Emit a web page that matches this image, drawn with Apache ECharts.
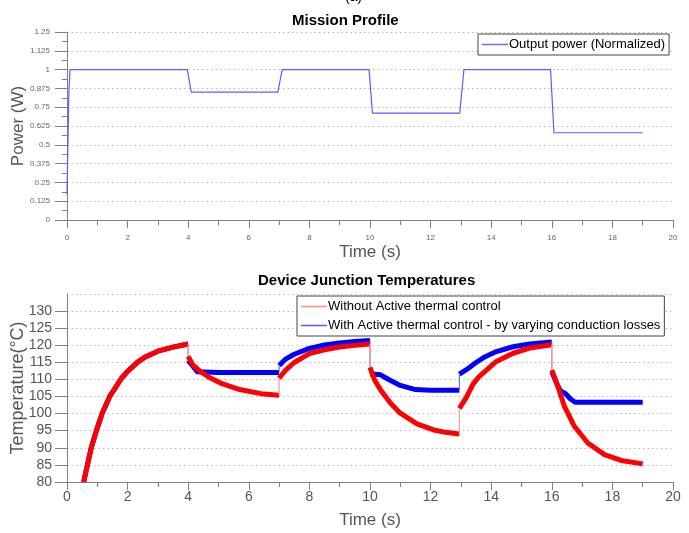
<!DOCTYPE html>
<html><head><meta charset="utf-8">
<script src="https://cdn.jsdelivr.net/npm/echarts@6/dist/echarts.min.js"></script>
<style>html,body{margin:0;padding:0;background:#fff}#c{width:689px;height:533px}</style>
</head><body><div id="c"></div>
<script>
// ---- data ----
const powerTime  = [0, 0.03, 0.06, 0.1, 3.97, 4.1, 6.96, 7.1, 9.97, 10.08, 12.96, 13.1, 15.96, 16.07, 19];
const powerValue = [0.17, 0.5, 0.84, 1, 1, 0.85, 0.85, 1, 1, 0.71, 0.71, 1, 1, 0.58, 0.58];

const redSeg1 = [[0.55,80],[0.8,90],[0.97,95],[1.16,100],[1.41,105],[1.8,110.3],[2.0,112.3],[2.33,115],[2.6,116.6],[3.0,118.2],[3.5,119.4],[4.0,120.3]];
const redSeg2 = [[4.0,116.7],[4.15,114.2],[4.4,112.3],[4.7,110.5],[5.07,108.9],[5.7,107],[6.4,105.8],[7.0,105.3]];
const redSeg3 = [[7.0,110.3],[7.2,112.5],[7.5,114.9],[8.0,117.5],[8.5,118.6],[9.0,119.4],[9.5,119.9],[10.0,120.3]];
const redSeg4 = [[10.0,113.5],[10.15,109.8],[10.35,106.9],[10.68,103],[11.0,100.1],[11.55,97],[12.1,95.2],[12.5,94.5],[12.95,94]];
const redSeg5 = [[12.95,101.5],[13.18,104.7],[13.4,108.6],[13.6,110.8],[14.17,115.2],[14.72,117.6],[15.27,119.1],[16.0,120.1]];
const redSeg6 = [[16.0,112.7],[16.2,107.9],[16.42,102],[16.75,96.2],[17.19,91.4],[17.74,88],[18.29,86.3],[19.0,85.3]];

const blueSeg1 = [[0.55,80],[0.8,90],[0.97,95],[1.16,100],[1.41,105],[1.8,110.3],[2.0,112.3],[2.33,115],[2.6,116.6],[3.0,118.2],[3.5,119.4],[4.0,120.3]];
const blueSeg2 = [[4.0,115.5],[4.3,112.2],[5.0,112],[7.0,112]];
const blueSeg3 = [[7.0,114],[7.2,115.8],[7.5,117.3],[8.0,119.0],[8.5,120],[9.0,120.6],[9.5,121],[10.0,121.3]];
const blueSeg4 = [[10.0,111.6],[10.35,111.3],[10.6,110],[11.0,108.2],[11.5,107],[12.0,106.8],[12.95,106.8]];
const blueSeg5 = [[12.95,111.5],[13.18,112.8],[13.5,114.9],[13.8,116.6],[14.17,118.1],[14.72,119.5],[15.27,120.3],[16.0,120.9]];
const blueSeg6 = [[16.0,112.2],[16.17,108.6],[16.28,106.7],[16.44,105.9],[16.61,104.3],[16.77,103.3],[19.0,103.3]];

const redName = 'Without Active thermal control';
const blueName = 'With Active thermal control - by varying conduction losses';
const powerName = 'Output power (Normalized)';

// ---- build ----
const FONT = '"Liberation Sans", Arial, sans-serif';
const redSegs = [redSeg1, redSeg2, redSeg3, redSeg4, redSeg5, redSeg6];
const blueSegs = [blueSeg1, blueSeg2, blueSeg3, blueSeg4, blueSeg5, blueSeg6];

function jumps(segs) {
  const out = [];
  for (let i = 0; i < segs.length - 1; i++) {
    out.push([segs[i][segs[i].length - 1], segs[i + 1][0]]);
  }
  return out;
}

const series = [];
series.push({
  name: powerName, type: 'line', xAxisIndex: 0, yAxisIndex: 0,
  data: powerTime.map((t, i) => [t, powerValue[i]]),
  showSymbol: false, symbol: 'none',
  lineStyle: { color: '#5c5cff', width: 1.2 }, itemStyle: { color: '#5c5cff' }
});
function addTemp(segs, name, color, thin, z) {
  segs.forEach(s => series.push({
    name, type: 'line', xAxisIndex: 1, yAxisIndex: 1, data: s,
    showSymbol: false, symbol: 'none', z,
    lineStyle: { color, width: 5, cap: 'butt', join: 'round' }, itemStyle: { color }
  }));
  jumps(segs).forEach(j => series.push({
    name, type: 'line', xAxisIndex: 1, yAxisIndex: 1, data: j,
    showSymbol: false, symbol: 'none', z,
    lineStyle: { color: thin, width: 1.2 }, itemStyle: { color }
  }));
}
addTemp(blueSegs, blueName, '#0000ff', '#6a6aff', 2);
addTemp(redSegs, redName, '#ff0000', '#ff9a9a', 3);

const axisLineStyle = { color: '#808080', width: 1 };
const gridLine = { show: true, lineStyle: { color: '#b8b8b8', type: [1.5, 3], width: 1 } };

const option = {
  animation: false,
  backgroundColor: '#fff',
  title: [
    { text: 'Mission Profile', left: 287, top: 8, textStyle: { fontFamily: FONT, fontSize: 15, fontWeight: 'bold', color: '#000' } },
    { text: 'Device Junction Temperatures', left: 253, top: 268, textStyle: { fontFamily: FONT, fontSize: 15, fontWeight: 'bold', color: '#000' } },
    { text: '(a)', left: 340, top: -15, textStyle: { fontFamily: FONT, fontSize: 14, fontWeight: 'normal', color: '#000' } }
  ],
  legend: [
    {
      data: [{ name: powerName, itemStyle: { color: '#6a6aff' } }],
      left: 478, top: 34, orient: 'vertical',
      icon: 'rect', itemWidth: 26, itemHeight: 1.5, itemGap: 2,
      backgroundColor: '#fff', borderColor: '#444', borderWidth: 1, padding: [4, 4, 4, 4],
      textStyle: { fontFamily: FONT, fontSize: 13, color: '#000', padding: [0, 0, 0, -4] }
    },
    {
      data: [{ name: redName, itemStyle: { color: '#ff8a8a' } }, { name: blueName, itemStyle: { color: '#5a5aff' } }],
      left: 297, top: 296, orient: 'vertical',
      icon: 'rect', itemWidth: 26, itemHeight: 1.5, itemGap: 6,
      backgroundColor: '#fff', borderColor: '#444', borderWidth: 1, padding: [4, 4, 4, 4],
      textStyle: { fontFamily: FONT, fontSize: 13, color: '#000', padding: [0, 0, 0, -4] }
    }
  ],
  grid: [
    { left: 67, right: 16, top: 32, bottom: 313, outerBoundsMode: 'none', containLabel: false },
    { left: 67, right: 16, top: 294, bottom: 51, outerBoundsMode: 'none', containLabel: false }
  ],
  xAxis: [
    {
      type: 'value', gridIndex: 0, min: 0, max: 20, interval: 2,
      name: 'Time (s)', nameLocation: 'middle', nameGap: 24, nameMoveOverlap: false,
      nameTextStyle: { fontFamily: FONT, fontSize: 17, color: '#555' },
      axisLine: { show: true, onZero: false, lineStyle: axisLineStyle },
      axisTick: { show: true, length: 8, lineStyle: axisLineStyle },
      minorTick: { show: true, splitNumber: 2, length: 5, lineStyle: axisLineStyle },
      axisLabel: { fontFamily: FONT, fontSize: 8, color: '#666', margin: 14 },
      splitLine: { show: false }
    },
    {
      type: 'value', gridIndex: 1, min: 0, max: 20, interval: 2,
      name: 'Time (s)', nameLocation: 'middle', nameGap: 30, nameMoveOverlap: false,
      nameTextStyle: { fontFamily: FONT, fontSize: 17, color: '#555' },
      axisLine: { show: true, onZero: false, lineStyle: axisLineStyle },
      axisTick: { show: true, length: 8, lineStyle: axisLineStyle },
      minorTick: { show: true, splitNumber: 2, length: 5, lineStyle: axisLineStyle },
      axisLabel: { fontFamily: FONT, fontSize: 14, color: '#555', margin: 8 },
      splitLine: { show: false }
    }
  ],
  yAxis: [
    {
      type: 'value', gridIndex: 0, min: 0, max: 1.25, interval: 0.125,
      name: 'Power (W)', nameLocation: 'middle', nameGap: 40, nameMoveOverlap: false,
      nameTextStyle: { fontFamily: FONT, fontSize: 17, color: '#555' },
      axisLine: { show: true, onZero: false, lineStyle: axisLineStyle },
      axisTick: { show: true, length: 12, lineStyle: axisLineStyle },
      minorTick: { show: true, splitNumber: 2, length: 5, lineStyle: axisLineStyle },
      axisLabel: { fontFamily: FONT, fontSize: 8, color: '#666', margin: 17, formatter: v => String(+v.toFixed(3)) },
      splitLine: gridLine
    },
    {
      type: 'value', gridIndex: 1, min: 80, max: 134.9, interval: 5,
      name: 'Temperature(°C)', nameLocation: 'middle', nameGap: 40, nameMoveOverlap: false,
      nameTextStyle: { fontFamily: FONT, fontSize: 18, color: '#555' },
      axisLine: { show: true, onZero: false, lineStyle: axisLineStyle },
      axisTick: { show: true, length: 12, lineStyle: axisLineStyle },
      axisLabel: { fontFamily: FONT, fontSize: 14, color: '#555', margin: 15, showMaxLabel: false },
      splitLine: gridLine
    }
  ],
  series
};
echarts.init(document.getElementById('c'), null, { renderer: 'canvas' }).setOption(option);
</script></body></html>
